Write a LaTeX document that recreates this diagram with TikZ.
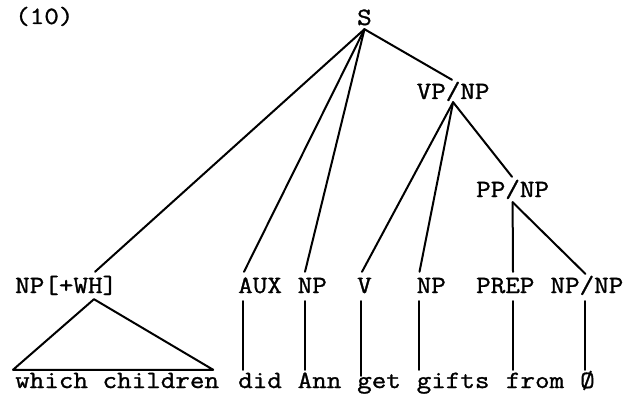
\documentclass[tikz,border=0pt]{standalone}
\usepackage{fontspec}
\setmonofont{Latin Modern Mono}[FakeStretch=1.14, FakeBold=1.2]
\begin{document}
\begin{tikzpicture}[x=1pt,y=-1pt,
  lab/.style={font=\ttfamily\fontsize{24.8}{26}\selectfont, inner sep=0pt, anchor=base west, text height=15pt, text depth=0pt},
  word/.style={lab},
  br/.style={line width=2pt, line cap=round, line join=round}]
\useasboundingbox (0,0) rectangle (632,396);
% heading
\node[lab] (num) at (15,24) {(10)};
% upper labels
\node[lab] (s) at (357,25) {S};
\node[lab] (vpnp) at (416.5,99) {VP/NP};
\node[lab] (ppnp) at (476,197) {PP/NP};
% label row
\node[lab] (nwh) at (15,293) {NP[+WH]};
\node[lab] (aux) at (238,293) {AUX};
\node[lab] (npa) at (297.5,293) {NP};
\node[lab] (v) at (357,293) {V};
\node[lab] (npb) at (416.5,293) {NP};
\node[lab] (prep) at (476,293) {PREP};
\node[lab] (npnp) at (550.3,293) {NP/NP};
% words
\node[word] (wc) at (15,388) {which children};
\node[word] (did) at (238,388) {did};
\node[word] (ann) at (297.5,388) {Ann};
\node[word] (get) at (357,388) {get};
\node[word] (gifts) at (416.5,388) {gifts};
\node[word] (from) at (505.7,388) {from};
\node[word] (empty) at (580,388) {Ø};
% branches from S
\coordinate (sa) at ([yshift=-4pt]s.south);
\draw[br] (sa) -- ([xshift=80pt,yshift=6pt]nwh.north west);
\draw[br] (sa) -- ([xshift=6pt,yshift=6pt]aux.north west);
\draw[br] (sa) -- ([xshift=7.5pt,yshift=6pt]npa.north west);
\draw[br] (sa) -- ([xshift=35.5pt,yshift=4pt]vpnp.north west);
% branches from VP/NP
\coordinate (va) at ([yshift=-3pt]vpnp.south);
\draw[br] (va) -- ([xshift=5pt,yshift=6pt]v.north west);
\draw[br] (va) -- ([xshift=3pt,yshift=6pt]npb.north west);
\draw[br] (va) -- ([xshift=36pt,yshift=5pt]ppnp.north west);
% branches from PP/NP
\coordinate (pa) at ([yshift=-5pt]ppnp.south);
\draw[br] (pa) -- ([xshift=37pt,yshift=6pt]prep.north west);
\draw[br] (pa) -- ([xshift=35pt,yshift=4pt]npnp.north west);
% triangle
\draw[br] ([xshift=79pt,yshift=-6pt]nwh.south west) -- ([xshift=-2pt,yshift=3pt]wc.north west) -- ([xshift=-6pt,yshift=3pt]wc.north east) -- cycle;
% lexical lines
\draw[br] ([xshift=5pt,yshift=-8pt]aux.south west) -- ([xshift=5pt,yshift=3pt]did.north west);
\draw[br] ([xshift=7.5pt,yshift=-8pt]npa.south west) -- ([xshift=7.5pt,yshift=3pt]ann.north west);
\draw[br] ([xshift=4pt,yshift=-8pt]v.south west) -- ([xshift=4pt,yshift=-3pt]get.north west);
\draw[br] ([xshift=2pt,yshift=-8pt]npb.south west) -- ([xshift=2pt,yshift=3pt]gifts.north west);
\draw[br] ([xshift=37pt,yshift=-8pt]prep.south west) -- ([xshift=7.3pt,yshift=3pt]from.north west);
\draw[br] ([xshift=34.7pt,yshift=-8pt]npnp.south west) -- ([xshift=5pt,yshift=3pt]empty.north west);
\end{tikzpicture}
\end{document}
